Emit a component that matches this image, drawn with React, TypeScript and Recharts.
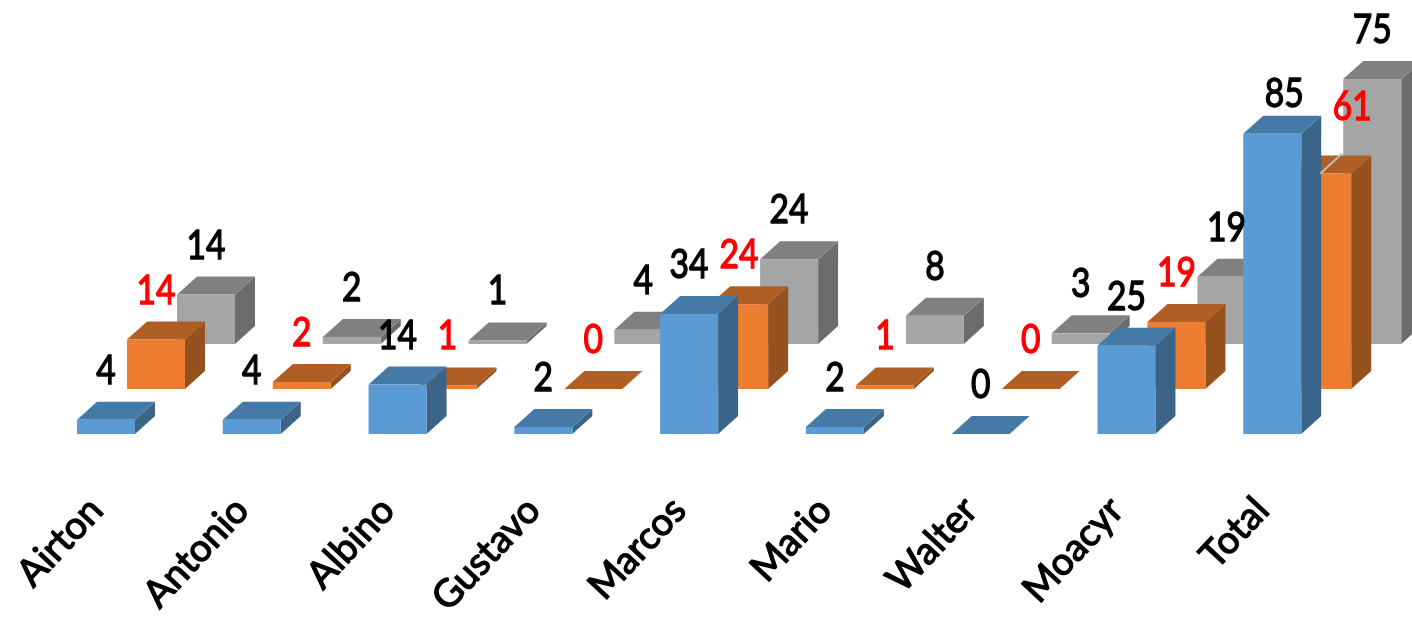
import React from 'react';
import { BarChart, Bar, XAxis, YAxis, LabelList } from 'recharts';

const categories = ['Airton', 'Antonio', 'Albino', 'Gustavo', 'Marcos', 'Mario', 'Walter', 'Moacyr', 'Total'];
const blueValues = [4, 4, 14, 2, 34, 2, 0, 25, 85];
const orangeValues = [14, 2, 1, 0, 24, 1, 0, 19, 61];
const grayValues = [14, 2, 1, 4, 24, 8, 3, 19, 75];

const chartData = categories.map((name, i) => ({
  name,
  blue: blueValues[i],
  orange: orangeValues[i],
  gray: grayValues[i],
}));

const DEPTH_X = 20;
const DEPTH_Y = 18;
const FONT = 'Lato, "Open Sans", sans-serif';

// fake 3D box: front face plus a top and a side parallelogram
const makeBox = (front: string, top: string, side: string) => (props: any) => {
  const { x, y, width, height } = props;
  const r = x + width;
  const b = y + height;
  return (
    <g>
      <polygon points={`${r},${y} ${r + DEPTH_X},${y - DEPTH_Y} ${r + DEPTH_X},${b - DEPTH_Y} ${r},${b}`} fill={side} />
      <polygon points={`${x},${y} ${x + DEPTH_X},${y - DEPTH_Y} ${r + DEPTH_X},${y - DEPTH_Y} ${r},${y}`} fill={top} />
      <rect x={x} y={y} width={width} height={height} fill={front} />
    </g>
  );
};

const makeLabel = (color: string, totalDx = 0, totalDy = 0) => (props: any) => {
  const { x, y, width, value, index } = props;
  const isTotal = index === categories.length - 1;
  const cx = x + width / 2 + (isTotal ? totalDx : 0);
  const cy = y - 36 + (isTotal ? totalDy : 0);
  return (
    <g>
      {isTotal && totalDx > 20 && (
        <line x1={x + 27} y1={y} x2={x + 49} y2={y - 20} stroke="#BDBDBD" strokeWidth={2} />
      )}
      <text
        transform={`translate(${cx},${cy}) scale(0.82,1)`}
        textAnchor="middle"
        fontFamily={FONT}
        fontSize={41}
        fill={color}
        stroke={color}
        strokeWidth={1.4}
      >
        {value}
      </text>
    </g>
  );
};

const CategoryTick = ({ x, payload }: any) => (
  <text
    transform={`translate(${x - 1},${512}) rotate(-47)`}
    textAnchor="end"
    fontFamily={FONT}
    fontSize={38}
    fill="#000"
    stroke="#000"
    strokeWidth={1.3}
  >
    {payload.value}
  </text>
);

export default function App() {
  return (
    <div style={{ position: 'absolute', left: 0, top: 0, width: 1412, height: 626, overflow: 'hidden', filter: 'blur(0.5px)' }}>
      <BarChart width={1412} height={626} data={chartData} margin={{ top: 0, right: 0, bottom: 0, left: 0 }} barSize={58}>
        <XAxis
          xAxisId="blue"
          dataKey="name"
          height={192}
          padding={{ left: 33, right: 67 }}
          axisLine={false}
          tickLine={false}
          interval={0}
          tick={<CategoryTick />}
        />
        <XAxis xAxisId="orange" dataKey="name" hide padding={{ left: 83, right: 17 }} />
        <XAxis xAxisId="gray" dataKey="name" hide padding={{ left: 133, right: -33 }} />
        <YAxis yAxisId="blue" hide domain={[0, 122.9]} />
        <YAxis yAxisId="orange" hide domain={[-12.75, 110.15]} />
        <YAxis yAxisId="gray" hide domain={[-25.5, 97.4]} />

        <Bar dataKey="gray" xAxisId="gray" yAxisId="gray" isAnimationActive={false} shape={makeBox('#A5A5A5', '#808080', '#6C6C6C')}>
          <LabelList dataKey="gray" content={makeLabel('#000')} />
        </Bar>
        <Bar dataKey="orange" xAxisId="orange" yAxisId="orange" isAnimationActive={false} shape={makeBox('#ED7D31', '#B05F24', '#95511E')}>
          <LabelList dataKey="orange" content={makeLabel('#FF0000', 30, -18)} />
        </Bar>
        <Bar dataKey="blue" xAxisId="blue" yAxisId="blue" isAnimationActive={false} shape={makeBox('#5B9BD5', '#4579A6', '#3A6488')}>
          <LabelList dataKey="blue" content={makeLabel('#000', 12, 9)} />
        </Bar>
      </BarChart>
    </div>
  );
}
